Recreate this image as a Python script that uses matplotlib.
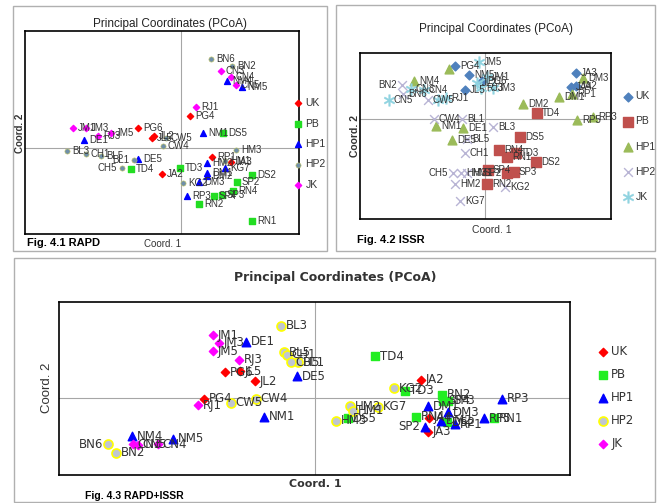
import matplotlib
matplotlib.use("Agg")
import matplotlib.pyplot as plt
from matplotlib.patches import Rectangle

W, H = 659, 503
NARROW = ['Liberation Sans Narrow', 'Liberation Sans', 'DejaVu Sans']
groups = ['UK', 'PB', 'HP1', 'HP2', 'JK']

# ---- Fig 4.1 RAPD ----
rapd_names = ['BN6', 'BN2', 'CN3', 'CN4', 'NM4', 'CN5', 'NM5', 'RJ1', 'PG4', 'JM1', 'JM3', 'RJ3', 'JM5', 'DE1',
              'PG6', 'JL2', 'JL5', 'CW5', 'CW4', 'BL3', 'CH1', 'BL5', 'BL1', 'DE5', 'CH5', 'TD4', 'JA2', 'TD3',
              'KG2', 'NM1', 'DS5', 'HM3', 'HM2', 'RP1', 'HM1', 'JA3', 'KG7', 'DM1', 'DM2', 'DM3', 'DS2', 'SP2',
              'RN4', 'SP3', 'SP4', 'RP3', 'RN2', 'RN1']
rapd_groups = ['HP2', 'HP2', 'JK', 'JK', 'HP1', 'JK', 'HP1', 'JK', 'UK', 'JK', 'JK', 'JK', 'JK', 'HP1',
               'UK', 'UK', 'UK', 'HP2', 'HP2', 'HP2', 'HP2', 'HP2', 'HP2', 'HP1', 'HP2', 'PB', 'UK', 'PB',
               'HP2', 'HP1', 'PB', 'HP2', 'HP1', 'UK', 'HP2', 'UK', 'HP1', 'HP1', 'HP1', 'HP1', 'PB', 'PB',
               'PB', 'PB', 'PB', 'HP1', 'PB', 'PB']
rapd_x = [0.30, 0.51, 0.40, 0.50, 0.46, 0.55, 0.61, 0.15, 0.09, -1.08, -0.95, -0.83, -0.70, -0.97,
          -0.43, -0.27, -0.29, -0.15, -0.18, -1.14, -0.95, -0.80, -0.47, -0.43, -0.59, -0.50, -0.19, -0.01,
          0.02, 0.22, 0.42, 0.55, 0.26, 0.31, 0.44, 0.50, 0.44, 0.26, 0.26, 0.18, 0.71, 0.56,
          0.52, 0.41, 0.33, 0.06, 0.18, 0.71]
rapd_y = [0.89, 0.82, 0.77, 0.71, 0.67, 0.63, 0.61, 0.41, 0.32, 0.20, 0.20, 0.12, 0.15, 0.08,
          0.20, 0.12, 0.10, 0.10, 0.02, -0.03, -0.06, -0.08, -0.12, -0.11, -0.20, -0.21, -0.26, -0.20,
          -0.35, 0.15, 0.15, -0.02, -0.15, -0.09, -0.13, -0.14, -0.20, -0.25, -0.28, -0.34, -0.27, -0.34,
          -0.43, -0.47, -0.48, -0.48, -0.56, -0.73]

# ---- Fig 4.2 ISSR ----
issr_names = ['JM5', 'PG4', '', 'NM5', 'PG6', 'JM1', 'JL2', 'RJ3', 'JM3', 'BN2', 'NM4', 'CN3', 'CN4', 'JL5',
              'RJ1', 'CN5', 'BN6', 'CW5', '', 'CW4', 'NM1', 'BL1', 'DE1', 'DE5', 'BL5', 'BL3', 'CH1', 'CH5',
              'HM3', 'HM1', 'HM2', 'KG7', 'DS5', 'RN4', 'TD3', 'RN1', 'DS2', 'SP2', 'SP3', 'SP4', 'RN2', 'KG2',
              'DM2', 'TD4', 'DM1', 'RP1', 'JA3', 'JA4', 'JA2', 'DM3', 'RP5', 'RP3']
issr_groups = ['JK', 'UK', 'HP1', 'UK', 'UK', 'JK', 'JK', 'JK', 'JK', 'HP2', 'HP1', 'JK', 'JK', 'UK',
               'JK', 'JK', 'HP2', 'HP2', 'JK', 'HP2', 'HP1', 'HP2', 'HP1', 'HP1', 'HP2', 'HP2', 'HP2', 'HP2',
               'HP2', 'HP2', 'HP2', 'HP2', 'PB', 'PB', 'PB', 'PB', 'PB', 'PB', 'PB', 'PB', 'PB', 'HP2',
               'HP1', 'PB', 'HP1', 'HP1', 'UK', 'UK', 'UK', 'HP1', 'HP1', 'HP1']
issr_x = [-0.06, -0.30, -0.36, -0.16, -0.03, 0.02, -0.08, -0.04, 0.08, -0.83, -0.71, -0.74, -0.61, -0.20,
          -0.39, -0.96, -0.82, -0.57, -0.47, -0.51, -0.49, -0.23, -0.22, -0.33, -0.18, 0.08, -0.20, -0.32,
          -0.24, -0.18, -0.30, -0.25, 0.35, 0.14, 0.31, 0.22, 0.51, 0.22, 0.29, 0.03, 0.02, 0.20,
          0.38, 0.52, 0.74, 0.87, 0.91, 0.86, 0.91, 0.98, 0.92, 1.08]
issr_y = [0.57, 0.53, 0.50, 0.44, 0.38, 0.42, 0.36, 0.31, 0.31, 0.34, 0.38, 0.30, 0.29, 0.29,
          0.21, 0.19, 0.25, 0.19, 0.19, 0.00, -0.07, 0.00, -0.09, -0.21, -0.20, -0.08, -0.34, -0.54,
          -0.54, -0.54, -0.65, -0.82, -0.18, -0.31, -0.34, -0.38, -0.43, -0.54, -0.53, -0.51, -0.65, -0.68,
          0.15, 0.06, 0.22, 0.25, 0.46, 0.32, 0.33, 0.41, -0.01, 0.02]

# ---- Fig 4.3 RAPD+ISSR ----
comb_names = ['BL3', 'JM1', 'JM3', 'DE1', 'JM5', 'BL5', 'CH1', 'BL1', 'CH5', 'RJ3', 'DE5', 'PG6', 'JL5',
              'JL2', 'PG4', 'RJ1', 'CW4', 'CW5', 'NM1', 'NM4', 'NM5', 'CN3', 'CN4', 'CN5', 'BN6', 'BN2',
              'TD4', 'KG2', 'TD3', 'JA2', 'RN2', 'SP4', 'SP3', 'RP3', 'HM2', 'HM1', 'HM3', 'DS5', 'KG7',
              'DM1', 'RN4', 'JA4', 'SP2', 'DM3', 'DS2', 'DM2', 'JA3', 'RP1', 'RP5', 'RN1']
comb_groups = ['HP2', 'JK', 'JK', 'HP1', 'JK', 'HP2', 'HP2', 'HP2', 'HP2', 'JK', 'HP1', 'UK', 'UK',
               'UK', 'UK', 'JK', 'HP2', 'HP2', 'HP1', 'HP1', 'HP1', 'JK', 'JK', 'JK', 'HP2', 'HP2',
               'PB', 'HP2', 'PB', 'UK', 'PB', 'PB', 'PB', 'HP1', 'HP2', 'HP2', 'HP2', 'PB', 'HP2',
               'HP1', 'PB', 'UK', 'HP1', 'HP1', 'PB', 'HP1', 'UK', 'HP1', 'HP1', 'PB']
comb_x = [-0.34, -1.02, -0.96, -0.69, -1.02, -0.31, -0.28, -0.17, -0.24, -0.76, -0.18, -0.90, -0.75,
          -0.60, -1.11, -1.17, -0.59, -0.84, -0.51, -1.83, -1.42, -1.82, -1.57, -1.77, -2.07, -1.99,
          0.60, 0.79, 0.90, 1.06, 1.27, 1.28, 1.33, 1.87, 0.35, 0.38, 0.21, 0.33, 0.63,
          1.13, 1.01, 1.14, 1.10, 1.33, 1.32, 1.26, 1.13, 1.40, 1.69, 1.79]
comb_y = [0.72, 0.63, 0.55, 0.56, 0.47, 0.46, 0.43, 0.36, 0.36, 0.38, 0.22, 0.26, 0.27,
          0.17, -0.01, -0.07, -0.01, -0.05, -0.19, -0.38, -0.41, -0.46, -0.46, -0.47, -0.46, -0.55,
          0.42, 0.10, 0.07, 0.18, 0.03, -0.03, -0.03, -0.01, -0.08, -0.13, -0.23, -0.20, -0.09,
          -0.08, -0.19, -0.20, -0.29, -0.14, -0.24, -0.23, -0.34, -0.26, -0.20, -0.20]


def box(l, t, r, b):
    return [l / W, 1 - b / H, (r - l) / W, (b - t) / H]


def ftext(x, y, s, **kw):
    fig.text(x / W, 1 - y / H, s, ha=kw.pop('ha', 'center'), va=kw.pop('va', 'center'), **kw)


def panel(rect, names, grp, xs, ys, xlim, ylim, styles, fs, fam, left=(), leg_pos=None, leg_fs=7, leg_sp=1.0):
    ax = fig.add_axes(box(*rect))
    ax.set_xlim(xlim)
    ax.set_ylim(ylim)
    ax.set_xticks([])
    ax.set_yticks([])
    for s in ax.spines.values():
        s.set_linewidth(1.2)
    ax.axhline(0, color='#a6a6a6', lw=0.8, zorder=0)
    ax.axvline(0, color='#a6a6a6', lw=0.8, zorder=0)
    for g in groups:
        px = [x for x, gg in zip(xs, grp) if gg == g]
        py = [y for y, gg in zip(ys, grp) if gg == g]
        ax.scatter(px, py, label=g, zorder=3, **styles[g])
    for n, x, y in zip(names, xs, ys):
        if not n:
            continue
        if n in left:
            ax.annotate(n, (x, y), xytext=(-3.5, 0), textcoords='offset points', ha='right', va='center',
                        fontsize=fs, family=fam, color='#333333', zorder=4)
        else:
            ax.annotate(n, (x, y), xytext=(3.5, 0), textcoords='offset points', ha='left', va='center',
                        fontsize=fs, family=fam, color='#333333', zorder=4)
    lx, ly = leg_pos
    leg = ax.legend(loc='center left', bbox_to_anchor=(lx / W, 1 - ly / H), bbox_transform=fig.transFigure,
                    frameon=False, handlelength=1.0, handletextpad=0.2, borderpad=0, borderaxespad=0,
                    labelspacing=leg_sp, prop={'family': fam, 'size': leg_fs})
    for t in leg.get_texts():
        t.set_color('#333333')
    return ax


fig = plt.figure(figsize=(6.59, 5.03), dpi=100)

# panel borders
for l, t, r, b in [(13, 6, 327, 251), (336, 5, 655, 251), (14, 258, 655, 502)]:
    fig.patches.append(Rectangle((l / W, 1 - b / H), (r - l) / W, (b - t) / H, transform=fig.transFigure,
                                 fill=False, edgecolor='#b0b0b0', lw=1.0))

rapd_style = {
    'UK': dict(marker='D', s=10, color='#ff0000'),
    'PB': dict(marker='s', s=22, color='#22dd22'),
    'HP1': dict(marker='^', s=18, color='#0000ff'),
    'HP2': dict(marker='o', s=14, color='#6f8fa8', edgecolors='#c8c860', linewidths=0.4),
    'JK': dict(marker='D', s=10, color='#ff00ff'),
}
panel((25, 31, 299, 234), rapd_names, rapd_groups, rapd_x, rapd_y, (-1.56, 1.18), (-0.86, 1.17),
      rapd_style, 7, NARROW, left={'CH5', 'BL1'}, leg_pos=(293, 144), leg_fs=7.5, leg_sp=1.0)
ftext(170, 24, 'Principal Coordinates (PCoA)', fontsize=8.5, family=NARROW, color='#222222')
ftext(20, 133, 'Coord. 2', fontsize=7, family=NARROW, rotation=90, fontweight='bold', color='#333333')
ftext(163, 244, 'Coord. 1', fontsize=7, family=NARROW, color='#333333')
ftext(27, 243, 'Fig. 4.1 RAPD', fontsize=8, family=NARROW, fontweight='bold', ha='left')

issr_style = {
    'UK': dict(marker='D', s=20, color='#4f81bd'),
    'PB': dict(marker='s', s=45, color='#c0504d'),
    'HP1': dict(marker='^', s=40, color='#9bbb59'),
    'HP2': dict(marker='x', s=40, color='#b8b4d4', linewidths=1.0),
    'JK': dict(marker='$\\ast$', s=70, color='#8fd3e0', linewidths=0.3),
}
panel((360, 53, 611, 219), issr_names, issr_groups, issr_x, issr_y, (-1.25, 1.26), (-1.00, 0.66),
      issr_style, 7, NARROW, left={'BN2', 'CH5', 'SP2'}, leg_pos=(623, 146.5), leg_fs=7.5, leg_sp=1.45)
ftext(496, 29, 'Principal Coordinates (PCoA)', fontsize=8.5, family=NARROW, color='#222222')
ftext(355, 136, 'Coord. 2', fontsize=7.5, family=NARROW, rotation=90, fontweight='bold', color='#333333')
ftext(492, 230, 'Coord. 1', fontsize=7.5, family=NARROW, color='#333333')
ftext(357, 240, 'Fig. 4.2 ISSR', fontsize=8, family=NARROW, fontweight='bold', ha='left')

comb_style = {
    'UK': dict(marker='D', s=18, color='#ff0000'),
    'PB': dict(marker='s', s=40, color='#22ee22'),
    'HP1': dict(marker='^', s=38, color='#0000ff'),
    'HP2': dict(marker='o', s=42, color='#c0c6d0', edgecolors='#ffff00', linewidths=1.2),
    'JK': dict(marker='D', s=18, color='#ff00ff'),
}
panel((59, 302, 570, 475), comb_names, comb_groups, comb_x, comb_y, (-2.56, 2.55), (-0.77, 0.96),
      comb_style, 8.5, ['DejaVu Sans'], left={'BN6', 'SP2'}, leg_pos=(597, 397.5), leg_fs=8.5, leg_sp=0.85)
ftext(335, 278, 'Principal Coordinates (PCoA)', fontsize=9, fontweight='bold', color='#333333')
ftext(47, 388, 'Coord. 2', fontsize=9.5, family=NARROW, rotation=90, color='#333333')
ftext(315, 484, 'Coord. 1', fontsize=8, fontweight='bold', color='#333333')
ftext(85, 496, 'Fig. 4.3 RAPD+ISSR', fontsize=7.5, family=NARROW, fontweight='bold', ha='left')

fig.savefig('out.png', dpi=100)
